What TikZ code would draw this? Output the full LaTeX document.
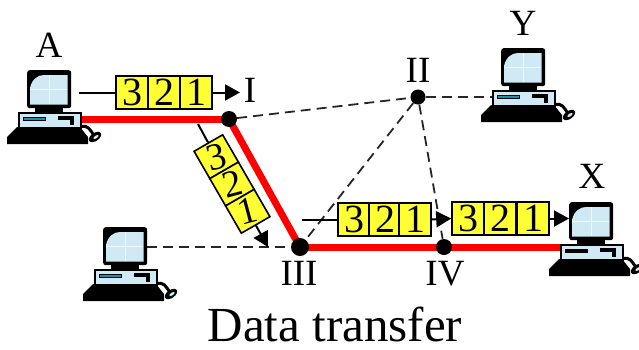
\documentclass[tikz,border=0pt]{standalone}
\usepackage{fontspec}
\setmainfont{Liberation Serif}
\usetikzlibrary{arrows.meta,backgrounds}
\definecolor{pktyellow}{HTML}{FFFF33}
\definecolor{scr}{HTML}{CFEAF5}
\definecolor{slot}{HTML}{1A8FB0}
\tikzset{
  cell/.style={draw=black,line width=1.6pt,fill=pktyellow,inner sep=0pt,minimum width=32pt,minimum height=33pt,font=\fontsize{40}{40}\selectfont},
  tilted/.style={cell,rotate=30,minimum width=33pt,minimum height=31.5pt},
  digit/.style={inner sep=0pt,rotate=15,font=\fontsize{38}{38}\selectfont},
  router/.style={circle,fill=black,inner sep=0pt,minimum size=16pt},
  lab/.style={anchor=base,inner sep=0pt,font=\fontsize{37}{37}\selectfont},
  redlink/.style={red,line width=7pt},
  dlink/.style={black!85,line width=1.8pt,dash pattern=on 10pt off 6pt},
  flow/.style={black,line width=2pt},
  flowa/.style={flow,-{Triangle[length=15pt,width=16pt]}},
}
\newcommand{\computer}[4][slot]{%
  \begin{scope}[shift={(#2,#3)}]
    \fill[black] (7,144) -- (7,137) -- (17,127) -- (80,127) -- (88,137) -- (88,144) -- cycle;
    \draw[black,line width=3pt] (80,127) .. controls (88,124) and (90,130) .. (93,134);
    \fill[black,rotate around={35:(95,137)}] (95,137) ellipse (7pt and 4pt);
    \fill[scr,rotate around={35:(96,137)}] (96,137) ellipse (3pt and 1.3pt);
    \fill[black] (35,107) rectangle (63,113);
    \node[draw=black,line width=2pt,fill=scr,minimum width=62pt,minimum height=15pt,inner sep=0pt,anchor=north west] (#4base) at (17.5,112) {};
    \fill[#1,draw=black,line width=.7pt] (23,117) rectangle (45,120.5);
    \fill[black] (58,116) rectangle (74,120);
    \fill[black] (70,120) rectangle (74,125);
    \node[fill=black,rounded corners=2.5pt,minimum width=44pt,minimum height=38pt,inner sep=0pt,anchor=north west] (#4mon) at (27,70) {};
    \fill[scr] (30,104.5) -- (30,88) .. controls (32,79) and (38,75) .. (44,75) -- (67.5,75) -- (67.5,104.5) -- cycle;
    \draw[white!70!scr,line width=.3pt] (49,75) -- (49,104) (30,89) -- (67,89);
  \end{scope}}
\begin{document}
\begin{tikzpicture}[x=1pt,y=-1pt]
\useasboundingbox (0,0) rectangle (639,349);
\begin{scope}[on background layer]
\fill[white] (0,0) rectangle (639,349);
\end{scope}

% routers
\node[router] (I) at (229,119) {};
\node[router,minimum size=15pt] (II) at (418,97) {};
\node[router,minimum size=18pt] (III) at (300,247) {};
\node[router] (IV) at (444,247) {};

% computers
\computer{0}{0}{A}
\computer{76}{157}{C}
\computer{474}{-22}{Y}
\computer[black]{542}{132}{X}

% links
\begin{scope}[on background layer]
\draw[dlink] (I) -- (II);
\draw[dlink] (II) -- (Ybase.west |- II);
\draw[dlink] (II) -- (III);
\draw[dlink] (II) -- (IV);
\draw[dlink] (Cmon.east |- III) -- (III);
\draw[redlink] (Abase.east |- I) -- (I.center);
\draw[redlink] (I.center) -- (III.center);
\draw[redlink] (III.center) -- (IV.center);
\draw[redlink] (IV.center) -- (Xbase.west |- IV);
\end{scope}

% packets
\node[cell] (a3) at (132,92.5) {3};
\node[cell] (a2) at (164,92.5) {2};
\node[cell] (a1) at (196,92.5) {1};
\node[tilted] (b3) at (216.25,156.7) {};
\node[tilted] (b2) at (232,184) {};
\node[tilted] (b1) at (247.75,211.3) {};
\node[digit] (n3) at (b3) {3};
\node[digit] (n2) at (b2) {2};
\node[digit] (n1) at (b1) {1};
\node[cell] (c3) at (354,219.5) {3};
\node[cell] (c2) at (385,219.5) {2};
\node[cell] (c1) at (415,219.5) {1};
\node[cell] (d3) at (468,218.5) {3};
\node[cell] (d2) at (500,218.5) {2};
\node[cell] (d1) at (533,218.5) {1};

% flow arrows
\coordinate (as) at (79,92.5);
\coordinate (at) at (240,92.5);
\coordinate (bs) at (198,124);
\coordinate (bt) at (268,247);
\coordinate (cs) at (302,219.5);
\draw[flow] (as) -- (a3.west);
\draw[flowa] (a1.east) -- (at);
\draw[flow] (bs) -- (b3.north);
\draw[flowa] (b1.south) -- (bt);
\draw[flow] (cs) -- (c3.west);
\draw[flowa] (c1.east) -- (d3.west);
\draw[flowa] (d1.east) -- (Xmon.west |- d1);

% labels
\node[lab] (la) at (49,57) {A};
\node[lab] (li) at (250,102) {I};
\node[lab] (lii) at (418,82) {II};
\node[lab] (liii) at (299,285) {III};
\node[lab] (liv) at (445,285) {IV};
\node[lab] (ly) at (523,35) {Y};
\node[lab] (lx) at (592,188) {X};
\node[lab,font=\fontsize{49}{49}\selectfont] (title) at (335,341) {Data transfer};
\end{tikzpicture}
\end{document}
